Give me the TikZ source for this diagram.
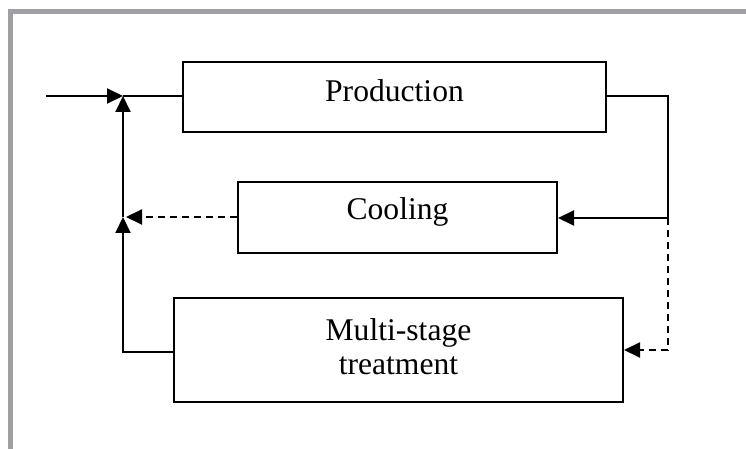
\documentclass[tikz,border=0pt]{standalone}
\usepackage{fontspec}
\setmainfont{Liberation Serif}
\usetikzlibrary{arrows.meta}
\definecolor{framegray}{RGB}{160,160,164}
\begin{document}
\begin{tikzpicture}[x=0.5pt,y=-0.5pt,
  txt/.style={font=\fontsize{15.8}{17}\selectfont},
  box/.style={draw=black,line width=1pt,inner sep=0pt,txt},
  flow/.style={line width=1pt,-{Triangle[length=8pt,width=7.5pt]}},
  plain/.style={line width=1pt},
  dsh/.style={dash pattern=on 3.5pt off 2.5pt}]
\useasboundingbox (0,0) rectangle (746,449);
% frame
\draw[framegray,line width=2.3pt] (10.5,449) -- (10.5,11.5) -- (746,11.5);
% boxes
\node[box,minimum width=211.5pt,minimum height=35pt,text height=12pt,text depth=7.3pt] (prod) at (394.5,97) {Production};
\node[box,minimum width=159.5pt,minimum height=35.5pt,text height=12pt,text depth=10pt] (cool) at (397.5,217.5) {Cooling};
\node[box,minimum width=224.5pt,minimum height=52pt,
  label={[name=msl,txt,align=center,yshift=1.7pt]center:{Multi-stage\\treatment}}] (ms) at (398.5,350) {};
% junctions
\coordinate (in) at (46,96);
\coordinate (j1) at (123,96);
\coordinate (j2) at (123,217);
\coordinate (r2) at (668,218);
% connectors
\draw[flow] (in) -- (j1);
\draw[plain] (j1) -- (prod.west |- j1);
\draw[plain] (prod.east |- j1) -| (r2);
\draw[flow] (r2) -- (cool.east |- r2);
\draw[flow,dsh] (r2) |- (ms.east);
\draw[flow,dsh] (cool.west |- j2) -- ([xshift=1.5pt]j2);
\draw[flow] (ms.west |- 0,352) -- (123,352) -- (j2);
\draw[flow] (j2) -- (j1);
\end{tikzpicture}
\end{document}
